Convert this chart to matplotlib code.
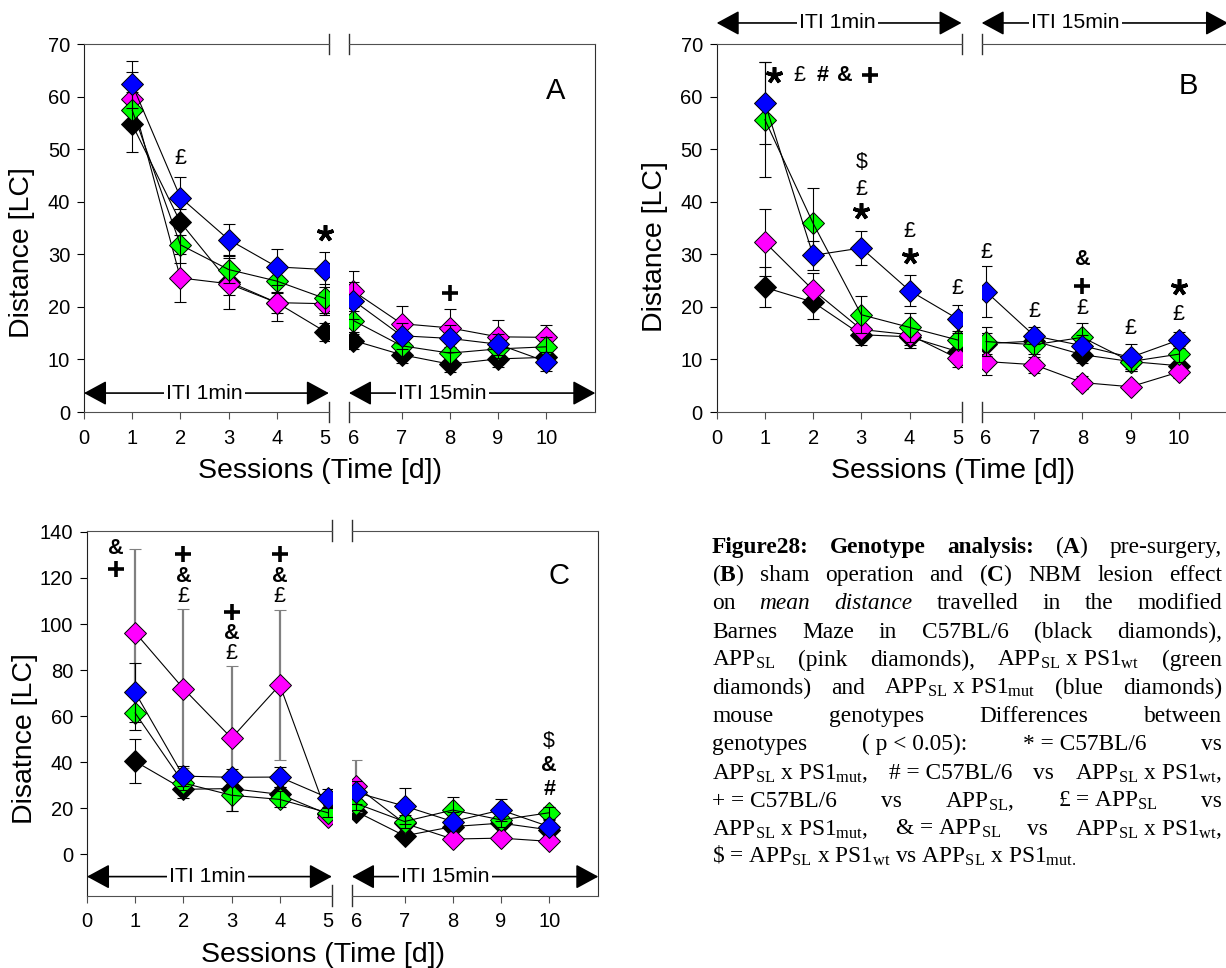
import matplotlib
matplotlib.use('Agg')
import matplotlib.pyplot as plt

plt.rcParams['font.family'] = ['Liberation Sans', 'DejaVu Sans']
plt.rcParams['mathtext.fontset'] = 'custom'
plt.rcParams['mathtext.rm'] = 'Liberation Serif'
plt.rcParams['mathtext.it'] = 'Liberation Serif:italic'
plt.rcParams['mathtext.bf'] = 'Liberation Serif:bold'

sessions = [1, 2, 3, 4, 5, 6, 7, 8, 9, 10]
colors = {'black': '#000000', 'pink': '#ff00ff', 'green': '#00ff00', 'blue': '#0000ff'}

# panel A: pre-surgery
a_black = [54.7, 36.1, 24.8, 20.8, 15.3, 13.6, 10.9, 9.1, 10.1, 10.4]
a_pink = [59.6, 25.5, 24.4, 20.8, 20.6, 23.0, 16.8, 16.0, 14.3, 14.2]
a_green = [57.4, 31.8, 27.1, 24.9, 21.6, 17.4, 12.6, 11.2, 12.0, 12.4]
a_blue = [62.3, 40.8, 32.8, 27.6, 27.1, 21.2, 14.5, 14.0, 12.9, 9.6]
a_black_err = [5.2, 2.5, 2.5, 2.0, 1.7, 1.7, 1.5, 1.5, 1.5, 1.5]
a_pink_err = [5.0, 4.5, 4.9, 3.4, 2.2, 3.8, 3.4, 3.6, 3.2, 2.3]
a_green_err = [3.5, 3.5, 2.5, 2.2, 2.8, 2.5, 2.0, 2.0, 1.8, 1.8]
a_blue_err = [4.5, 3.9, 2.9, 3.4, 3.4, 3.5, 2.5, 2.5, 2.0, 1.8]

# panel B: sham operation
b_black = [23.7, 20.9, 14.7, 14.3, 11.5, 13.0, 13.5, 10.9, 9.6, 8.8]
b_pink = [32.3, 23.2, 15.7, 14.7, 10.2, 9.6, 9.0, 5.6, 4.8, 7.6]
b_green = [55.6, 35.9, 18.5, 16.1, 13.7, 13.4, 12.8, 14.2, 9.6, 11.0]
b_blue = [58.8, 29.8, 31.2, 23.1, 17.7, 22.9, 14.5, 12.6, 10.4, 13.7]
b_black_err = [3.8, 3.2, 1.9, 2.2, 1.5, 2.0, 1.5, 1.5, 1.5, 1.5]
b_pink_err = [6.4, 3.3, 2.0, 2.0, 1.6, 2.6, 1.5, 1.2, 1.0, 1.2]
b_green_err = [10.9, 6.7, 3.5, 2.7, 1.8, 2.7, 1.8, 2.7, 1.8, 1.5]
b_blue_err = [7.8, 2.8, 3.3, 2.9, 2.6, 4.8, 1.6, 2.0, 2.6, 1.6]

# panel C: NBM lesion
c_black = [40.4, 28.3, 28.6, 26.1, 17.5, 18.6, 8.1, 12.1, 13.6, 10.7]
c_pink = [96.3, 72.0, 50.5, 73.6, 16.4, 29.6, 13.5, 6.7, 7.1, 5.7]
c_green = [61.4, 31.0, 25.7, 23.9, 18.1, 22.1, 14.3, 19.3, 15.0, 18.1]
c_blue = [70.3, 34.0, 33.5, 33.6, 24.6, 26.9, 21.0, 14.3, 19.3, 12.1]
c_black_err = [9.5, 3.6, 3.0, 3.0, 2.0, 2.5, 2.0, 2.0, 2.0, 2.0]
c_pink_err = [36.2, 34.5, 31.5, 32.7, 2.0, 11.3, 2.0, 1.5, 1.5, 1.5]
c_green_err = [7.3, 3.0, 6.8, 3.5, 2.0, 3.0, 3.0, 5.7, 3.0, 2.5]
c_blue_err = [12.7, 4.3, 3.5, 4.5, 4.0, 5.0, 7.9, 4.0, 4.7, 3.0]

# significance marks: (session, distance, symbol)
a_marks = [(2, 48.2, '£'), (5, 34.0, '*'), (8, 22.6, '+')]
b_marks = [(1.18, 64.1, '*'), (1.72, 64.1, '£'), (2.19, 64.1, '#'), (2.66, 64.1, '&'), (3.18, 64.1, '+'),
           (3, 47.5, '$'), (3, 42.4, '£'), (3, 38.2, '*'),
           (4, 34.3, '£'), (4, 29.6, '*'), (5, 23.4, '£'), (6, 30.4, '£'), (7, 19.1, '£'),
           (8, 19.6, '£'), (8, 24.0, '+'), (8, 29.0, '&'), (9, 15.9, '£'),
           (10, 18.5, '£'), (10, 23.7, '*')]
c_marks = [(0.6, 132.8, '&'), (0.6, 124.1, '+'),
           (2, 130.6, '+'), (2, 120.8, '&'), (2, 111.9, '£'),
           (3, 105.4, '+'), (3, 96.0, '&'), (3, 87.3, '£'),
           (4, 130.6, '+'), (4, 120.8, '&'), (4, 111.9, '£'),
           (10, 49.1, '$'), (10, 38.5, '&'), (10, 28.0, '#')]

caption = [
    [('Figure28:', 'b'), ('Genotype', 'b'), ('analysis:', 'b'), (r'($\mathbf{A}$)', ''), ('pre-surgery,', '')],
    [(r'($\mathbf{B}$)', ''), ('sham', ''), ('operation', ''), ('and', ''), (r'($\mathbf{C}$)', ''),
     ('NBM', ''), ('lesion', ''), ('effect', '')],
    [('on', ''), ('mean', 'i'), ('distance', 'i'), ('travelled', ''), ('in', ''), ('the', ''), ('modified', '')],
    [('Barnes', ''), ('Maze', ''), ('in', ''), ('C57BL/6', ''), ('(black', ''), ('diamonds),', '')],
    [(r'APP$_{\mathrm{SL}}$', ''), ('(pink', ''), ('diamonds),', ''),
     (r'APP$_{\mathrm{SL}}$ x PS1$_{\mathrm{wt}}$', ''), ('(green', '')],
    [('diamonds)', ''), ('and', ''), (r'APP$_{\mathrm{SL}}$ x PS1$_{\mathrm{mut}}$', ''), ('(blue', ''), ('diamonds)', '')],
    [('mouse', ''), ('genotypes', ''), ('Differences', ''), ('between', '')],
    [('genotypes', ''), ('( p < 0.05):', ''), ('* = C57BL/6', ''), ('vs', '')],
    [(r'APP$_{\mathrm{SL}}$ x PS1$_{\mathrm{mut}}$,', ''), ('# = C57BL/6', ''), ('vs', ''),
     (r'APP$_{\mathrm{SL}}$ x PS1$_{\mathrm{wt}}$,', '')],
    [('+ = C57BL/6', ''), ('vs', ''), (r'APP$_{\mathrm{SL}}$,', ''), (r'£ = APP$_{\mathrm{SL}}$', ''), ('vs', '')],
    [(r'APP$_{\mathrm{SL}}$ x PS1$_{\mathrm{mut}}$,', ''), (r'& = APP$_{\mathrm{SL}}$', ''), ('vs', ''),
     (r'APP$_{\mathrm{SL}}$ x PS1$_{\mathrm{wt}}$,', '')],
    [(r'\$ = APP$_{\mathrm{SL}}$ x PS1$_{\mathrm{wt}}$ vs APP$_{\mathrm{SL}}$ x PS1$_{\mathrm{mut.}}$', '')],
]

W, H = 1226, 968
PX = 48.2  # pixels per session
fig = plt.figure(figsize=(W / 100, H / 100), dpi=100)
fig.patch.set_facecolor('white')


def make_panel(x0, top, bottom, ylim, yticks):
    y = 1 - bottom / H
    h = (bottom - top) / H
    axl = fig.add_axes([x0 / W, y, 5.08 * PX / W, h])
    axr = fig.add_axes([(x0 + 265) / W, y, 5.11 * PX / W, h])
    axl.set_xlim(0, 5.08)
    axr.set_xlim(5.91, 11.02)
    for ax in (axl, axr):
        ax.set_ylim(*ylim)
        ax.patch.set_alpha(0)
        ax.spines['top'].set_color('#505050')
        ax.spines['bottom'].set_color('#505050')
        ax.tick_params(axis='x', direction='out', length=5, width=0.8, color='#505050',
                       labelsize=14.5, pad=7)
    axl.spines['right'].set_visible(False)
    axr.spines['left'].set_visible(False)
    axr.spines['right'].set_color('#303030')
    axl.spines['left'].set_color('#202020')
    axl.set_yticks(yticks)
    axl.tick_params(axis='y', direction='out', length=5, width=0.8, labelsize=14.5, pad=5)
    axr.set_yticks([])
    axl.set_xticks(range(0, 6))
    axr.set_xticks(range(6, 11))
    axl.xaxis.get_major_ticks()[5].tick1line.set_visible(False)
    axr.xaxis.get_major_ticks()[0].tick1line.set_visible(False)
    # axis break marks
    for ax, xb in ((axl, 1), (axr, 0)):
        for yb in (0, 1):
            ax.plot([xb, xb], [yb - 0.028, yb + 0.028], transform=ax.transAxes,
                    color='#303030', lw=1, clip_on=False)
    return axl, axr


def draw_series(axl, axr, values, errs, color, z, ecolor='black', elw=0.8, lines_on_top=False):
    # green symbols get their own line and bars drawn over them, as in the original
    zl = z + 0.3 if lines_on_top else z
    for ax, sl in ((axl, slice(0, 5)), (axr, slice(5, 10))):
        xs, ys, es = sessions[sl], values[sl], errs[sl]
        ax.errorbar(xs, ys, yerr=es, fmt='none', ecolor=ecolor, elinewidth=elw,
                    capsize=4, capthick=0.8, zorder=zl)
        ax.plot(xs, ys, '-', color='black', lw=0.8, zorder=zl + 0.1)
        ax.plot(xs, ys, 'D', ms=11, mfc=color, mec='black', mew=0.7, zorder=z + 0.2)


def draw_marks(axl, axr, marks):
    for x, y, s in marks:
        ax = axl if x < 5.5 else axr
        if s == '*':
            ax.plot(x, y, marker=(5, 2, 0), ms=12, mew=2.6, color='black', zorder=10, clip_on=False)
        elif s == '+':
            ax.plot(x, y, marker='+', ms=11, mew=2.6, color='black', zorder=10, clip_on=False)
        else:
            wt = 'normal' if s in ('£', '$') else 'bold'
            ax.text(x, y, s.replace('$', r'\$'), ha='center', va='center', fontsize=15.5,
                    fontweight=wt, zorder=10, clip_on=False)


def iti_arrows(axl, axr, y, x1_text, x2_text):
    for ax, (xa, xb), label, xt in ((axl, (0, 5.08), 'ITI 1min', x1_text),
                                    (axr, (5.91, 11.02), 'ITI 15min', x2_text)):
        ax.annotate('', xy=(xb, y), xytext=(xa, y), annotation_clip=False,
                    arrowprops=dict(arrowstyle='<|-|>,head_length=0.7,head_width=0.38',
                                    color='black', lw=1.2, mutation_scale=20,
                                    shrinkA=0, shrinkB=0))
        ax.text(xt, y, label, ha='center', va='center', fontsize=15.3, zorder=6, clip_on=False,
                bbox=dict(fc='white', ec='none', pad=1.5))


panels = [
    (84, 44, 412, (0, 70), range(0, 71, 10),
     [(a_black, a_black_err), (a_pink, a_pink_err), (a_green, a_green_err), (a_blue, a_blue_err)],
     a_marks, 3.6, 'A', 61, 'Distance [LC]', 253),
    (716.7, 44, 412, (0, 70), range(0, 71, 10),
     [(b_black, b_black_err), (b_pink, b_pink_err), (b_green, b_green_err), (b_blue, b_blue_err)],
     b_marks, 74.0, 'B', 62, 'Distance [LC]', 247),
    (87, 530.5, 895.5, (-17.8, 140.6), range(0, 141, 20),
     [(c_black, c_black_err), (c_pink, c_pink_err), (c_green, c_green_err), (c_blue, c_blue_err)],
     c_marks, -9.6, 'C', 121, 'Disatnce [LC]', 739),
]

for x0, top, bottom, ylim, yticks, series, marks, arrow_y, letter, letter_y, ylabel, ylabel_y in panels:
    axl, axr = make_panel(x0, top, bottom, ylim, yticks)
    for i, ((vals, errs), name) in enumerate(zip(series, ['black', 'pink', 'green', 'blue'])):
        if letter == 'C' and name == 'pink':
            draw_series(axl, axr, vals, errs, colors[name], 3 + i, ecolor='#808080', elw=1.6)
        else:
            draw_series(axl, axr, vals, errs, colors[name], 3 + i, lines_on_top=(name == 'green'))
    draw_marks(axl, axr, marks)
    iti_arrows(axl, axr, arrow_y, 2.5, 7.85)
    axr.text(10.2, letter_y, letter, ha='center', va='center', fontsize=21)
    fig.text((x0 - 62) / W, 1 - ylabel_y / H, ylabel, rotation=90, ha='center', va='center', fontsize=20.5)
    fig.text((x0 + 4.9 * PX) / W, 1 - (bottom + 59) / H, 'Sessions (Time [d])',
             ha='center', va='center', fontsize=20.5)


def justified(lines, x0, x1, y0, dy, size):
    r = fig.canvas.get_renderer()
    styles = {'': ('normal', 'normal'), 'b': ('bold', 'normal'), 'i': ('normal', 'italic')}
    for i, words in enumerate(lines):
        y = 1 - (y0 + i * dy) / H
        arts = []
        for w, st in words:
            wt, sl = styles[st]
            arts.append(fig.text(0, y, w, fontsize=size, family='Liberation Serif',
                                 fontweight=wt, fontstyle=sl, va='baseline'))
        widths = [a.get_window_extent(r).width for a in arts]
        if i == len(lines) - 1 or len(arts) == 1:
            gap = size * 100 / 72 * 0.25
        else:
            gap = (x1 - x0 - sum(widths)) / (len(arts) - 1)
        x = x0
        for a, w in zip(arts, widths):
            a.set_x(x / W)
            x += w + gap


justified(caption, 712, 1222, 553, 28.2, 16.8)

fig.savefig('out.png', dpi=100, facecolor='white')
